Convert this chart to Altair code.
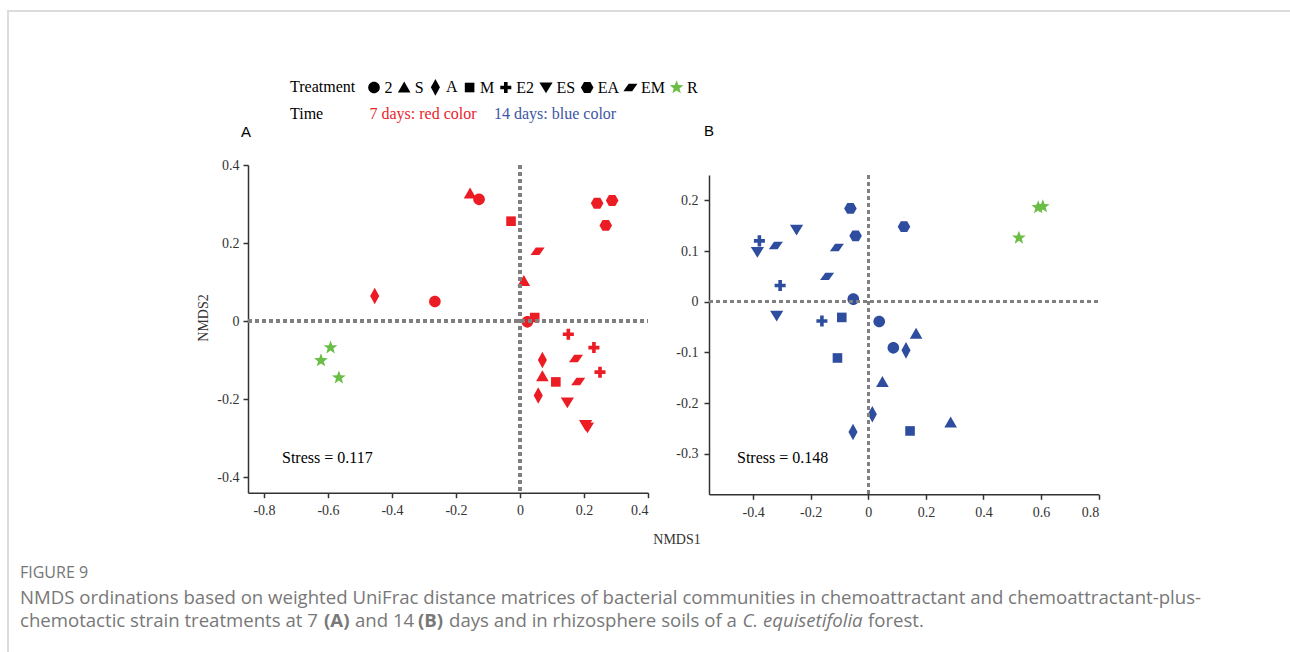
import math
import altair as alt
import pandas as pd

# ---------------- data ----------------
treatments = ["2", "S", "A", "M", "E2", "ES", "EA", "EM", "R"]

# Panel A: 7 days
a_treat = ["2", "2", "2", "S", "S", "S", "A", "A", "A", "M", "M", "M",
           "E2", "E2", "E2", "ES", "ES", "ES", "EA", "EA", "EA", "EM", "EM", "EM",
           "R", "R", "R"]
a_x = [-0.128, -0.266, 0.023, -0.156, 0.012, 0.070, -0.454, 0.070, 0.057,
       -0.028, 0.046, 0.112, 0.151, 0.231, 0.250, 0.148, 0.205, 0.211,
       0.241, 0.288, 0.268, 0.055, 0.175, 0.182, -0.592, -0.622, -0.566]
a_y = [0.312, 0.050, -0.002, 0.327, 0.103, -0.141, 0.064, -0.100, -0.191,
       0.256, 0.009, -0.156, -0.034, -0.068, -0.131, -0.209, -0.267, -0.273,
       0.302, 0.309, 0.245, 0.179, -0.096, -0.155, -0.068, -0.101, -0.145]

# Panel B: 14 days
b_treat = a_treat
b_x = [-0.052, 0.038, 0.087, 0.166, 0.049, 0.286, 0.131, 0.014, -0.053,
       -0.092, -0.107, 0.145, -0.378, -0.306, -0.161, -0.385, -0.249, -0.318,
       -0.062, 0.124, -0.044, -0.321, -0.109, -0.143, 0.590, 0.606, 0.523]
b_y = [0.005, -0.039, -0.091, -0.063, -0.158, -0.238, -0.096, -0.222, -0.257,
       -0.031, -0.111, -0.255, 0.120, 0.032, -0.038, 0.098, 0.142, -0.028,
       0.184, 0.148, 0.130, 0.111, 0.107, 0.050, 0.186, 0.188, 0.126]

a_xticks = [-0.8, -0.6, -0.4, -0.2, 0, 0.2, 0.4]
a_yticks = [-0.4, -0.2, 0, 0.2, 0.4]
b_xticks = [-0.4, -0.2, 0, 0.2, 0.4, 0.6, 0.8]
b_yticks = [-0.3, -0.2, -0.1, 0, 0.1, 0.2]

stress_a = "Stress = 0.117"
stress_b = "Stress = 0.148"

RED = "#ec1c24"
BLUE = "#2e4d9f"
GREEN = "#6abd45"

# ---------------- symbols ----------------
def star_path(ro=1.0, ri=0.42):
    pts = []
    for i in range(10):
        r = ro if i % 2 == 0 else ri
        ang = -math.pi / 2 + i * math.pi / 5
        pts.append(f"{r*math.cos(ang):.3f},{r*math.sin(ang):.3f}")
    return "M" + "L".join(pts) + "Z"

shape_paths = [
    "M-0.97,0A0.97,0.97,0,1,0,0.97,0A0.97,0.97,0,1,0,-0.97,0Z",          # 2 circle
    "M0,-0.98L1.05,0.85L-1.05,0.85Z",                                      # S triangle up
    "M0,-1.38L0.76,0L0,1.38L-0.76,0Z",                                     # A diamond
    "M-0.8,-0.8L0.8,-0.8L0.8,0.8L-0.8,0.8Z",                               # M square
    "M-0.3,-0.92L0.3,-0.92L0.3,-0.3L0.92,-0.3L0.92,0.3L0.3,0.3L0.3,0.92L-0.3,0.92L-0.3,0.3L-0.92,0.3L-0.92,-0.3L-0.3,-0.3Z",  # E2 cross
    "M0,0.95L1.1,-0.85L-1.1,-0.85Z",                                       # ES triangle down
    "M-1.05,0L-0.53,-0.9L0.53,-0.9L1.05,0L0.53,0.9L-0.53,0.9Z",           # EA hexagon
    "M-0.3,-0.62L1.17,-0.62L0.3,0.62L-1.17,0.62Z",                         # EM parallelogram
    star_path(1.2, 0.5),                                                   # R star
]
legend_colors = ["black"] * 8 + [GREEN]

SERIF = "Liberation Serif"
SANS = "Liberation Sans"
CAP = "Open Sans"
W, H = 1290, 652
SYM = 144

shape_scale = alt.Scale(domain=treatments, range=shape_paths)
legend_def = alt.Legend(title=None, orient="none", legendX=366, legendY=79,
                        direction="horizontal", symbolSize=SYM,
                        labelFont=SERIF, labelFontSize=16, labelColor="black",
                        labelOffset=2.5, columnPadding=3.2, padding=0, offset=0,
                        symbolStrokeWidth=0)


def frame(treat, xs, ys, days):
    cols = [GREEN if t == "R" else (RED if days == 7 else BLUE) for t in treat]
    return pd.DataFrame({"Treatment": treat, "NMDS1": xs, "NMDS2": ys, "col": cols})


def label_expr():
    return ("datum.value == 0 ? '0' : (datum.value < 0 ? '-' : '') + "
            "format(abs(datum.value), '.1f')")


def panel(df, xdom, xrange, ydom, yrange, xticks, yticks, xoff, yoff, ylabpad,
          stress, stress_x):
    xs = alt.Scale(domain=xdom, range=xrange, nice=False, zero=False)
    ys = alt.Scale(domain=ydom, range=yrange, nice=False, zero=False)
    common = dict(grid=False, title=None, domainColor="#333333", tickColor="#333333",
                  labelColor="#333333", labelFont=SERIF, labelFontSize=14,
                  tickSize=5, domainWidth=1.5, tickWidth=1.5, labelExpr=label_expr())
    xaxis = alt.Axis(orient="bottom", offset=xoff, values=xticks, labelPadding=6, **common)
    yaxis = alt.Axis(orient="left", offset=yoff, values=yticks, labelPadding=ylabpad, **common)

    dash = dict(color="#808080", strokeDash=[4, 3], strokeWidth=2.5)
    vline = alt.Chart(df).mark_rule(**dash).encode(
        x=alt.datum(0), y=alt.datum(ydom[1]), y2=alt.datum(ydom[0]))
    hline = alt.Chart(df).mark_rule(**dash).encode(
        y=alt.datum(0), x=alt.datum(xdom[0]), x2=alt.datum(xdom[1]))
    pts = alt.Chart(df).mark_point(filled=True, size=SYM, opacity=1, strokeWidth=0).encode(
        x=alt.X("NMDS1:Q", scale=xs, axis=xaxis),
        y=alt.Y("NMDS2:Q", scale=ys, axis=yaxis),
        shape=alt.Shape("Treatment:N", scale=shape_scale, legend=legend_def),
        fill=alt.Fill("col:N", scale=None),
    )
    st = alt.Chart(pd.DataFrame({"t": [stress]})).mark_text(
        font=SERIF, fontSize=16, color="black", align="left", baseline="middle").encode(
        x=alt.value(stress_x), y=alt.value(458), text="t:N")
    return alt.layer(pts, vline, hline, st)


panel_a = panel(frame(a_treat, a_x, a_y, 7), [-0.85, 0.4], [248, 648], [-0.44, 0.4],
                [492.7, 165], a_xticks, a_yticks, -159.3, -248, 4, stress_a, 282)
panel_b = panel(frame(b_treat, b_x, b_y, 14), [-0.553, 0.8], [709, 1098.7], [-0.38, 0.25],
                [494.3, 175], b_xticks, b_yticks, -157.7, -709, 6, stress_b, 737)

# legend carrier (off-canvas points) so the Treatment legend gets black / green symbols
legend_layer = alt.Chart(pd.DataFrame({"Treatment": treatments})).mark_point(
    filled=True, size=SYM).encode(
    x=alt.value(-60), y=alt.value(-60),
    shape=alt.Shape("Treatment:N", scale=shape_scale, legend=legend_def),
    color=alt.Color("Treatment:N", scale=alt.Scale(domain=treatments, range=legend_colors),
                    legend=legend_def),
)


def txt(s, x, y, font=SERIF, size=15, color="black", align="left", weight="normal",
        style="normal", angle=0, baseline="middle"):
    return alt.Chart(pd.DataFrame({"t": [s]})).mark_text(
        font=font, fontSize=size, color=color, align=align, baseline=baseline,
        fontWeight=weight, fontStyle=style, angle=angle).encode(
        x=alt.value(x), y=alt.value(y), text="t:N")


CAPC = "#787878"
CS = 18.6
L2 = 620.5
annotations = [
    txt("Treatment", 290, 87, size=16),
    txt("Time", 290, 113.5, size=16),
    txt("7 days: red color", 369.5, 113.5, size=16, color="#e8262c"),
    txt("14 days: blue color", 494, 113.5, size=16, color="#3d55a6"),
    txt("A", 246, 132, font=SANS, size=15, align="center"),
    txt("B", 709, 131, font=SANS, size=15, align="center"),
    txt("NMDS2", 204, 318, size=14, color="#333333", align="center", angle=270),
    txt("NMDS1", 677, 540, size=14, color="#333333", align="center"),
    txt("FIGURE 9", 20, 573, font=CAP, size=16, color="#757575"),
    txt("NMDS ordinations based on weighted UniFrac distance matrices of bacterial communities "
        "in chemoattractant and chemoattractant-plus-", 20, 597.5, font=CAP, size=CS, color=CAPC),
    txt("chemotactic strain treatments at 7", 20, L2, font=CAP, size=CS, color=CAPC),
    txt("(A)", 324, L2, font=CAP, size=CS, color=CAPC, weight="bold"),
    txt("and 14", 355, L2, font=CAP, size=CS, color=CAPC),
    txt("(B)", 418, L2, font=CAP, size=CS, color=CAPC, weight="bold"),
    txt("days and in rhizosphere soils of a", 449, L2, font=CAP, size=CS, color=CAPC),
    txt("C. equisetifolia", 742.5, L2, font=CAP, size=CS, color=CAPC, style="italic"),
    txt("forest.", 868, L2, font=CAP, size=CS, color=CAPC),
]

border = [
    alt.Chart(pd.DataFrame({"a": [0]})).mark_rule(color="#dcdcdc", strokeWidth=2).encode(
        x=alt.value(7), x2=alt.value(W), y=alt.value(11)),
    alt.Chart(pd.DataFrame({"a": [0]})).mark_rule(color="#dcdcdc", strokeWidth=2).encode(
        x=alt.value(8), y=alt.value(11), y2=alt.value(H)),
]

chart = alt.layer(panel_a, panel_b, legend_layer, *annotations, *border).resolve_scale(
    x="independent", y="independent"
).properties(
    width=W, height=H, autosize=alt.AutoSizeParams(type="none"), padding=0,
    background="white"
).configure_view(stroke=None)

chart.save("out.html", embed_options={"renderer": "svg", "actions": False})
